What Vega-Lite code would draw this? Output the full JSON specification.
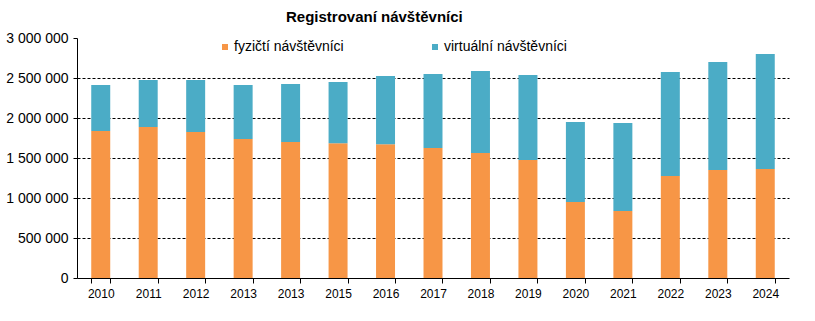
{
  "$schema": "https://vega.github.io/schema/vega-lite/v6.json",
  "width": 712,
  "height": 240,
  "autosize": {"type": "none"},
  "padding": {"left": 77, "top": 38, "right": 26, "bottom": 43},
  "background": "white",
  "config": {
    "font": "Liberation Sans",
    "view": {"stroke": null},
    "locale": {"number": {"decimal": ",", "thousands": " ", "grouping": [3], "currency": ["", " Kč"]}}
  },
  "title": {
    "text": "Registrovaní návštěvníci",
    "font": "Liberation Sans",
    "fontSize": 15,
    "fontWeight": "bold",
    "color": "#000000",
    "anchor": "start",
    "frame": "group",
    "dx": 209,
    "offset": 6
  },
  "data": {
    "values": [
      {"rok": "2010", "typ": "fyzičtí návštěvníci", "pocet": 1837500},
      {"rok": "2010", "typ": "virtuální návštěvníci", "pocet": 575000},
      {"rok": "2011", "typ": "fyzičtí návštěvníci", "pocet": 1887500},
      {"rok": "2011", "typ": "virtuální návštěvníci", "pocet": 587500},
      {"rok": "2012", "typ": "fyzičtí návštěvníci", "pocet": 1825000},
      {"rok": "2012", "typ": "virtuální návštěvníci", "pocet": 650000},
      {"rok": "2013", "typ": "fyzičtí návštěvníci", "pocet": 1737500},
      {"rok": "2013", "typ": "virtuální návštěvníci", "pocet": 675000},
      {"rok": "2013b", "typ": "fyzičtí návštěvníci", "pocet": 1700000},
      {"rok": "2013b", "typ": "virtuální návštěvníci", "pocet": 725000},
      {"rok": "2015", "typ": "fyzičtí návštěvníci", "pocet": 1683000},
      {"rok": "2015", "typ": "virtuální návštěvníci", "pocet": 767000},
      {"rok": "2016", "typ": "fyzičtí návštěvníci", "pocet": 1671000},
      {"rok": "2016", "typ": "virtuální návštěvníci", "pocet": 854000},
      {"rok": "2017", "typ": "fyzičtí návštěvníci", "pocet": 1625000},
      {"rok": "2017", "typ": "virtuální návštěvníci", "pocet": 925000},
      {"rok": "2018", "typ": "fyzičtí návštěvníci", "pocet": 1562500},
      {"rok": "2018", "typ": "virtuální návštěvníci", "pocet": 1025000},
      {"rok": "2019", "typ": "fyzičtí návštěvníci", "pocet": 1475000},
      {"rok": "2019", "typ": "virtuální návštěvníci", "pocet": 1062500},
      {"rok": "2020", "typ": "fyzičtí návštěvníci", "pocet": 950000},
      {"rok": "2020", "typ": "virtuální návštěvníci", "pocet": 1000000},
      {"rok": "2021", "typ": "fyzičtí návštěvníci", "pocet": 837500},
      {"rok": "2021", "typ": "virtuální návštěvníci", "pocet": 1100000},
      {"rok": "2022", "typ": "fyzičtí návštěvníci", "pocet": 1275000},
      {"rok": "2022", "typ": "virtuální návštěvníci", "pocet": 1300000},
      {"rok": "2023", "typ": "fyzičtí návštěvníci", "pocet": 1350000},
      {"rok": "2023", "typ": "virtuální návštěvníci", "pocet": 1350000},
      {"rok": "2024", "typ": "fyzičtí návštěvníci", "pocet": 1362500},
      {"rok": "2024", "typ": "virtuální návštěvníci", "pocet": 1437500}
    ]
  },
  "mark": {"type": "bar"},
  "encoding": {
    "x": {
      "field": "rok",
      "type": "ordinal",
      "sort": null,
      "scale": {"paddingInner": 0.6, "paddingOuter": 0.3},
      "axis": {
        "title": null,
        "labelAngle": 0,
        "labelExpr": "datum.value == '2013b' ? '2013' : datum.value",
        "labelFont": "Liberation Sans",
        "labelFontSize": 12,
        "labelColor": "#000000",
        "labelPadding": 5,
        "domainColor": "#000000",
        "domainWidth": 1,
        "tickColor": "#000000",
        "tickSize": 5,
        "tickBand": "extent",
        "grid": false
      }
    },
    "y": {
      "field": "pocet",
      "type": "quantitative",
      "aggregate": "sum",
      "stack": "zero",
      "scale": {"domain": [0, 3000000], "nice": false},
      "axis": {
        "title": null,
        "values": [0, 500000, 1000000, 1500000, 2000000, 2500000, 3000000],
        "format": ",d",
        "labelFont": "Liberation Sans",
        "labelFontSize": 14,
        "labelColor": "#000000",
        "labelPadding": 5,
        "domainColor": "#000000",
        "domainWidth": 1,
        "tickColor": "#000000",
        "tickSize": 4,
        "grid": true,
        "gridColor": "#000000",
        "gridWidth": 1,
        "gridDash": [3, 2],
        "gridOpacity": {"expr": "datum.value >= 3000000 || datum.value <= 0 ? 0 : 1"}
      }
    },
    "color": {
      "field": "typ",
      "type": "nominal",
      "scale": {
        "domain": ["fyzičtí návštěvníci", "virtuální návštěvníci"],
        "range": ["#F79646", "#4BACC6"]
      },
      "legend": {
        "title": null,
        "orient": "none",
        "legendX": 141,
        "legendY": 2,
        "direction": "horizontal",
        "symbolType": "square",
        "symbolSize": 36,
        "symbolStrokeWidth": 0,
        "labelFont": "Liberation Sans",
        "labelFontSize": 14,
        "labelColor": "#000000",
        "labelOffset": 2,
        "columnPadding": 84,
        "labelLimit": 300
      }
    },
    "order": {"field": "typ", "sort": "ascending"}
  }
}
